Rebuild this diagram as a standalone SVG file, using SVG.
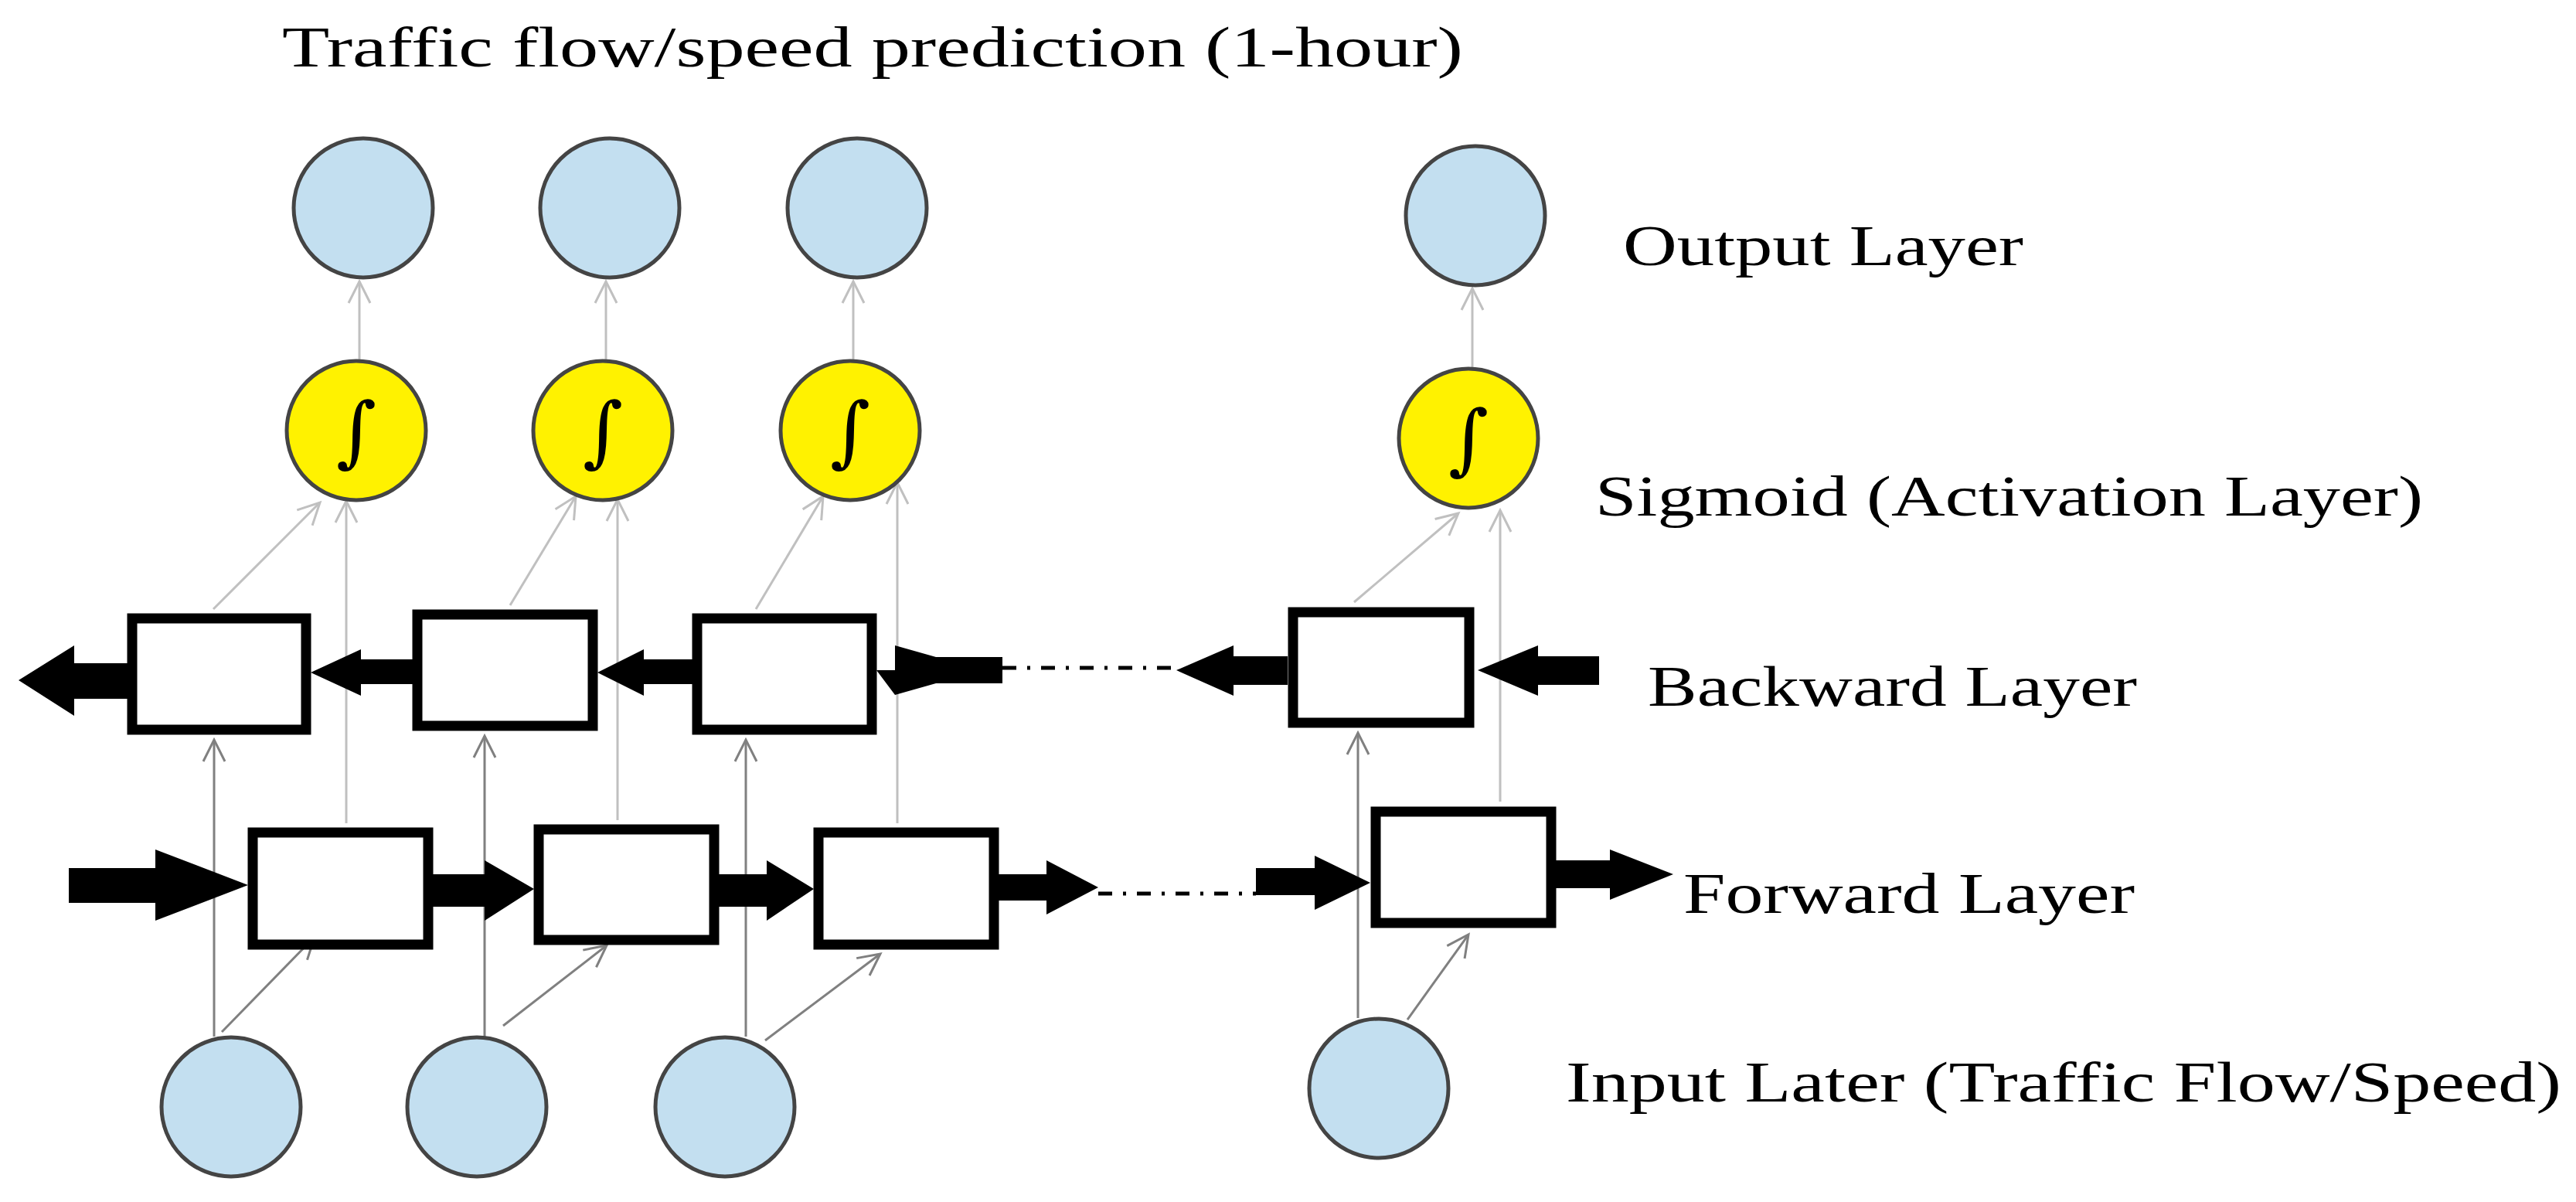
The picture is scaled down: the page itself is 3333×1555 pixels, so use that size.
<svg xmlns="http://www.w3.org/2000/svg" width="3333" height="1555" viewBox="0 0 3333 1555">
<style>
.c{fill:#c3dff0;stroke:#444;stroke-width:5}
.s{fill:#fff200;stroke:#444;stroke-width:5}
.b{fill:#fff;stroke:#000;stroke-width:13}
.t{font-family:"Liberation Serif",serif;fill:#000}
.int{font-family:"DejaVu Serif",serif;font-size:100px;text-anchor:middle}
.g1{stroke:#808080;stroke-width:3;fill:none;marker-end:url(#oa)}
.g2{stroke:#c0c0c0;stroke-width:3;fill:none;marker-end:url(#ob)}
.dash{stroke:#000;stroke-width:5;stroke-dasharray:18 14 4 14;fill:none}
</style>
<defs>
<marker id="oa" markerUnits="userSpaceOnUse" markerWidth="40" markerHeight="40" viewBox="-30 -20 40 40" refX="0" refY="0" orient="auto"><path d="M-28,-14 L0,0 L-28,14" fill="none" stroke="#808080" stroke-width="3"/></marker>
<marker id="ob" markerUnits="userSpaceOnUse" markerWidth="40" markerHeight="40" viewBox="-30 -20 40 40" refX="0" refY="0" orient="auto"><path d="M-28,-14 L0,0 L-28,14" fill="none" stroke="#c0c0c0" stroke-width="3"/></marker>
</defs>
<rect width="3333" height="1555" fill="#fff"/>
<text class="t" x="365" y="86" font-size="74" textLength="1528" lengthAdjust="spacingAndGlyphs">Traffic flow/speed prediction (1-hour)</text>
<text class="t" x="2100" y="343" font-size="74" textLength="518" lengthAdjust="spacingAndGlyphs">Output Layer</text>
<text class="t" x="2064" y="667" font-size="74" textLength="1071" lengthAdjust="spacingAndGlyphs">Sigmoid (Activation Layer)</text>
<text class="t" x="2132" y="913" font-size="74" textLength="633" lengthAdjust="spacingAndGlyphs">Backward Layer</text>
<text class="t" x="2178" y="1181" font-size="74" textLength="584" lengthAdjust="spacingAndGlyphs">Forward Layer</text>
<text class="t" x="2026" y="1425" font-size="74" textLength="1288" lengthAdjust="spacingAndGlyphs">Input Later (Traffic Flow/Speed)</text>

<g id="connectors">
<line class="g2" x1="465" y1="466" x2="465" y2="364"/>
<line class="g2" x1="784" y1="466" x2="784" y2="364"/>
<line class="g2" x1="1104" y1="466" x2="1104" y2="364"/>
<line class="g2" x1="1905" y1="476" x2="1905" y2="373"/>
<line class="g2" x1="276" y1="788" x2="414" y2="650"/>
<line class="g2" x1="448" y1="1065" x2="448" y2="648"/>
<line class="g2" x1="660" y1="783" x2="745" y2="642"/>
<line class="g2" x1="799" y1="1061" x2="799" y2="646"/>
<line class="g2" x1="978" y1="788" x2="1065" y2="642"/>
<line class="g2" x1="1161" y1="1065" x2="1161" y2="624"/>
<line class="g2" x1="1752" y1="779" x2="1887" y2="664"/>
<line class="g2" x1="1941" y1="1037" x2="1941" y2="660"/>
<line class="g1" x1="277" y1="1341" x2="277" y2="957"/>
<line class="g1" x1="627" y1="1341" x2="627" y2="952"/>
<line class="g1" x1="965" y1="1341" x2="965" y2="957"/>
<line class="g1" x1="1757" y1="1317" x2="1757" y2="948"/>
<line class="g1" x1="287" y1="1335" x2="407" y2="1212"/>
<line class="g1" x1="651" y1="1327" x2="785" y2="1223"/>
<line class="g1" x1="990" y1="1346" x2="1139" y2="1234"/>
<line class="g1" x1="1821" y1="1319" x2="1900" y2="1209"/>
<line class="dash" x1="1297" y1="864" x2="1522" y2="864"/>
<line class="dash" x1="1421" y1="1156" x2="1625" y2="1156"/>
<g fill="#000">
<path d="M24,880 L96,835 L96,858 L165,858 L165,904 L96,904 L96,926 Z"/>
<path d="M402,870 L467,840 L467,853 L534,853 L534,885 L467,885 L467,900 Z"/>
<path d="M773,870 L833,840 L833,853 L896,853 L896,885 L833,885 L833,900 Z"/>
<path d="M1134,867 L1158,867 L1158,835 L1211,850 L1297,850 L1297,884 L1211,884 L1158,899 Z"/>
<path d="M1522,867 L1596,835 L1596,849 L1666,849 L1666,886 L1596,886 L1596,900 Z"/>
<path d="M1912,867 L1990,835 L1990,849 L2069,849 L2069,886 L1990,886 L1990,900 Z"/>
<path d="M89,1123 L201,1123 L201,1099 L321,1145 L201,1191 L201,1168 L89,1168 Z"/>
<path d="M560,1131 L627,1131 L627,1113 L691,1150 L627,1191 L627,1173 L560,1173 Z"/>
<path d="M930,1131 L992,1131 L992,1113 L1053,1150 L992,1191 L992,1173 L930,1173 Z"/>
<path d="M1292,1131 L1354,1131 L1354,1113 L1421,1148 L1354,1183 L1354,1165 L1292,1165 Z"/>
<path d="M1625,1123 L1701,1123 L1701,1107 L1773,1142 L1701,1177 L1701,1158 L1625,1158 Z"/>
<path d="M2013,1113 L2083,1113 L2083,1099 L2165,1131 L2083,1164 L2083,1149 L2013,1149 Z"/>
</g>
</g>

<g id="out1"><circle class="c" cx="470" cy="269" r="90"/></g>
<g id="out2"><circle class="c" cx="789" cy="269" r="90"/></g>
<g id="out3"><circle class="c" cx="1109" cy="269" r="90"/></g>
<g id="out4"><circle class="c" cx="1909" cy="279" r="90"/></g>
<g id="sig1"><circle class="s" cx="461" cy="557" r="90"/><text class="int" x="461" y="592">∫</text></g>
<g id="sig2"><circle class="s" cx="780" cy="557" r="90"/><text class="int" x="780" y="592">∫</text></g>
<g id="sig3"><circle class="s" cx="1100" cy="557" r="90"/><text class="int" x="1100" y="592">∫</text></g>
<g id="sig4"><circle class="s" cx="1900" cy="567" r="90"/><text class="int" x="1900" y="602">∫</text></g>
<g id="bw1"><rect class="b" x="171" y="800" width="225" height="144"/></g>
<g id="bw2"><rect class="b" x="540" y="795" width="227" height="144"/></g>
<g id="bw3"><rect class="b" x="902" y="800" width="226" height="144"/></g>
<g id="bw4"><rect class="b" x="1673" y="792" width="228" height="143"/></g>
<g id="fw1"><rect class="b" x="327" y="1077" width="227" height="145"/></g>
<g id="fw2"><rect class="b" x="697" y="1073" width="227" height="143"/></g>
<g id="fw3"><rect class="b" x="1059" y="1077" width="227" height="145"/></g>
<g id="fw4"><rect class="b" x="1780" y="1050" width="227" height="144"/></g>
<g id="in1"><circle class="c" cx="299" cy="1432" r="90"/></g>
<g id="in2"><circle class="c" cx="617" cy="1432" r="90"/></g>
<g id="in3"><circle class="c" cx="938" cy="1432" r="90"/></g>
<g id="in4"><circle class="c" cx="1784" cy="1408" r="90"/></g>
</svg>
